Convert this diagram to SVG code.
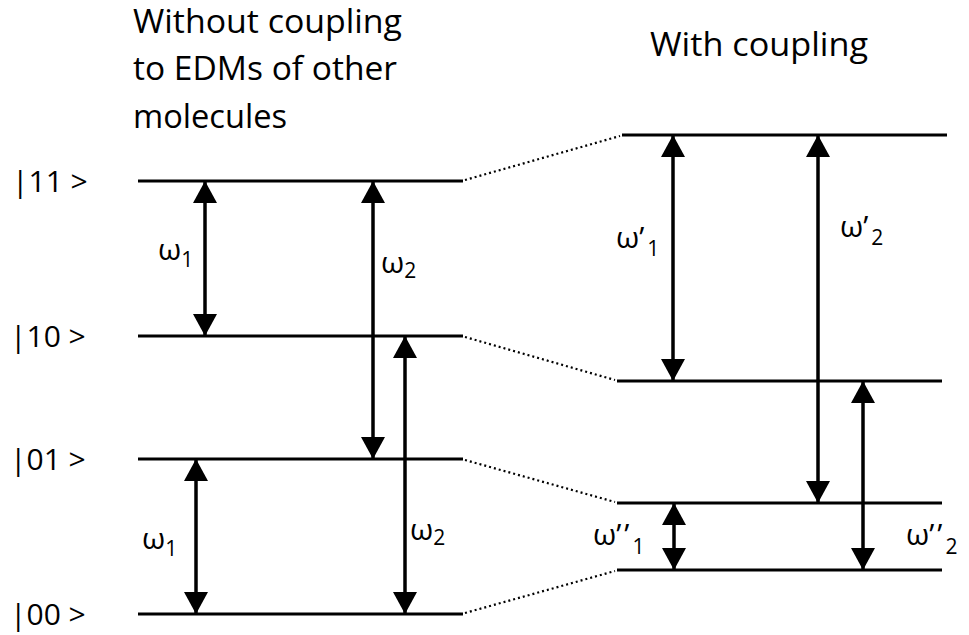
<svg xmlns="http://www.w3.org/2000/svg" width="969" height="635" viewBox="0 0 969 635">
  <style>
    .t { font-family: "Open Sans", "Liberation Sans", sans-serif; fill: #000; }
    .title { font-size: 32px; }
    .state { font-size: 30px; }
    .w { font-size: 30px; }
    .sub { font-size: 21px; }
    .level { stroke: #000; stroke-width: 3; fill: none; }
    .dot { stroke: #000; stroke-width: 2.2; stroke-dasharray: 2 3; fill: none; }
    .arr { stroke: #000; stroke-width: 3.5; fill: none; marker-start: url(#ah); marker-end: url(#ah); }
  </style>
  <defs>
    <marker id="ah" markerUnits="userSpaceOnUse" markerWidth="23" markerHeight="24" refX="22" refY="12" orient="auto-start-reverse" viewBox="0 0 23 24">
      <path d="M0,0 L22,12 L0,24 z" fill="#000"/>
    </marker>
  </defs>

  <g id="titles">
    <text class="t title" x="133" y="33" textLength="269" lengthAdjust="spacingAndGlyphs">Without coupling</text>
    <text class="t title" x="133" y="80" textLength="264" lengthAdjust="spacingAndGlyphs">to EDMs of other</text>
    <text class="t title" x="133" y="128" textLength="154" lengthAdjust="spacingAndGlyphs">molecules</text>
    <text class="t title" x="650" y="56" textLength="218" lengthAdjust="spacingAndGlyphs">With coupling</text>
  </g>

  <g id="state-labels">
    <text class="t state" x="12" y="192">|11 &gt;</text>
    <text class="t state" x="10" y="347">|10 &gt;</text>
    <text class="t state" x="10" y="470">|01 &gt;</text>
    <text class="t state" x="10" y="625">|00 &gt;</text>
  </g>

  <g id="levels-left">
    <line id="L11" class="level" x1="138" y1="181" x2="463" y2="181"/>
    <line id="L10" class="level" x1="138" y1="336" x2="463" y2="336"/>
    <line id="L01" class="level" x1="138" y1="459" x2="463" y2="459"/>
    <line id="L00" class="level" x1="138" y1="614" x2="463" y2="614"/>
  </g>

  <g id="levels-right">
    <line id="R1" class="level" x1="622" y1="135" x2="947" y2="135"/>
    <line id="R2" class="level" x1="617" y1="381" x2="942" y2="381"/>
    <line id="R3" class="level" x1="617" y1="503" x2="942" y2="503"/>
    <line id="R4" class="level" x1="617" y1="570" x2="942" y2="570"/>
  </g>

  <g id="connectors">
    <line class="dot" x1="465" y1="180" x2="620" y2="136"/>
    <line class="dot" x1="465" y1="337" x2="615" y2="380"/>
    <line class="dot" x1="465" y1="460" x2="615" y2="502"/>
    <line class="dot" x1="465" y1="613" x2="615" y2="571"/>

    <line class="arr" x1="205" y1="181" x2="205" y2="336"/>
    <line class="arr" x1="373" y1="181" x2="373" y2="459"/>
    <line class="arr" x1="196" y1="459" x2="196" y2="614"/>
    <line class="arr" x1="405" y1="336" x2="405" y2="614"/>

    <line class="arr" x1="673" y1="135" x2="673" y2="381"/>
    <line class="arr" x1="818" y1="135" x2="818" y2="503"/>
    <line class="arr" x1="674" y1="503" x2="674" y2="570"/>
    <line class="arr" x1="863" y1="381" x2="863" y2="570"/>
  </g>

  <g id="freq-labels">
    <text class="t w" x="158" y="260">ω<tspan class="sub" dy="7">1</tspan></text>
    <text class="t w" x="381" y="273">ω<tspan class="sub" dy="5">2</tspan></text>
    <text class="t w" x="142" y="549">ω<tspan class="sub" dy="7">1</tspan></text>
    <text class="t w" x="410" y="540">ω<tspan class="sub" dy="5">2</tspan></text>
    <text class="t w" x="616" y="248">ω’<tspan class="sub" dx="3" dy="8">1</tspan></text>
    <text class="t w" x="840" y="237">ω’<tspan class="sub" dx="3" dy="8">2</tspan></text>
    <text class="t w" x="593" y="545">ω’<tspan dx="3">’</tspan><tspan class="sub" dx="3" dy="9">1</tspan></text>
    <text class="t w" x="906" y="545">ω’<tspan dx="3">’</tspan><tspan class="sub" dx="3" dy="9">2</tspan></text>
  </g>
</svg>
